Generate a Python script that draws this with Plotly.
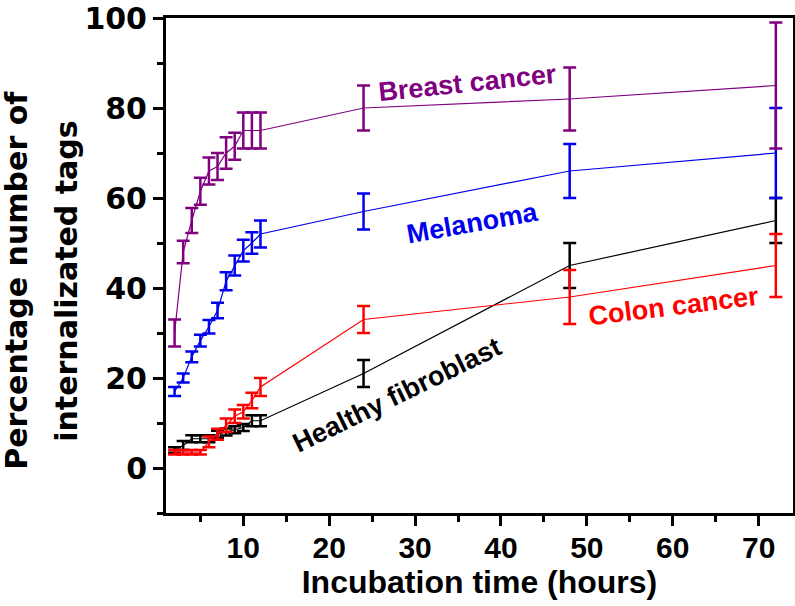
import plotly.graph_objects as go

# incubation times (hours)
hours = [2, 3, 4, 5, 6, 7, 8, 9, 10, 11, 12, 24, 48, 72]

# percentage of internalized tags, with error bars
breast = [30, 48, 55, 61.5, 66, 67, 70, 71.5, 75, 75, 75, 80, 82, 85]
breast_err = [3, 2.5, 2.8, 3, 3, 3, 3.5, 3, 4, 4, 4, 5, 7, 14]
melanoma = [17, 20, 24.7, 28.3, 31.4, 35, 41.5, 45, 48.3, 50, 52, 57, 66, 70]
melanoma_err = [1, 1, 1.2, 1.3, 1.5, 1.7, 2, 2.2, 2.4, 2.4, 3, 4, 6, 10]
colon = [3.5, 3.5, 3.5, 3.5, 5.8, 7.5, 9.5, 11.5, 12.5, 15, 18, 33, 38, 45]
colon_err = [0.5, 0.5, 0.5, 0.5, 1.2, 1.2, 1.5, 1.5, 1.5, 1.7, 2, 3, 6, 7]
fibro = [4, 5, 6.5, 6.5, 6.5, 7.5, 8, 8.5, 9, 10.5, 10.5, 21, 45, 55]
fibro_err = [0.6, 1, 0.8, 0.8, 0.8, 0.8, 0.8, 0.8, 0.8, 1.2, 1.2, 3, 5, 5]

x_ticks = [10, 20, 30, 40, 50, 60, 70]
y_ticks = [0, 20, 40, 60, 80, 100]

PURPLE = "#800080"
BLUE = "#0000ee"
RED = "#ff0000"
BLACK = "#000000"

series = [
    ("Healthy fibroblast", fibro, fibro_err, BLACK),
    ("Colon cancer", colon, colon_err, RED),
    ("Melanoma", melanoma, melanoma_err, BLUE),
    ("Breast cancer", breast, breast_err, PURPLE),
]

fig = go.Figure()
for name, vals, errs, col in series:
    fig.add_trace(go.Scatter(
        x=hours, y=vals, mode="lines", name=name,
        line=dict(color=col, width=1.2),
        error_y=dict(type="data", array=errs, visible=True,
                     color=col, thickness=2.5, width=6.5),
    ))

wide = "DejaVu Sans, Liberation Sans, Arial"
lab = "Liberation Sans, Arial"

fig.update_layout(
    width=795, height=606,
    margin=dict(l=166, r=2, t=18, b=93),
    paper_bgcolor="white", plot_bgcolor="white",
    showlegend=False,
    xaxis=dict(
        range=[1, 74], tickvals=x_ticks, ticks="outside", ticklen=10, tickwidth=3,
        tickcolor="black", showline=True, linecolor="black", linewidth=3, mirror=True,
        showgrid=False, zeroline=False, automargin=False, ticklabelstandoff=-4,
        minor=dict(dtick=5, tick0=0, ticks="outside", ticklen=6, tickwidth=3, tickcolor="black"),
        tickfont=dict(family=lab, size=30, color="black", weight="bold"),
        title=dict(text="Incubation time (hours)", standoff=2,
                   font=dict(family=lab, size=32, color="black", weight="bold")),
    ),
    yaxis=dict(
        range=[-10, 100], tickvals=y_ticks, ticks="outside", ticklen=10, tickwidth=3,
        tickcolor="black", showline=True, linecolor="black", linewidth=3, mirror=True,
        showgrid=False, zeroline=False, automargin=False,
        minor=dict(dtick=10, tick0=0, ticks="outside", ticklen=6, tickwidth=3, tickcolor="black"),
        tickfont=dict(family=wide, size=30, color="black", weight="bold"),
    ),
)

# y-axis title as two rotated lines
for txt, px in [("Percentage number of", 17), ("internalizated tags", 67)]:
    fig.add_annotation(
        text=txt, xref="paper", yref="paper",
        x=(px - 166) / 627, y=0.469, xanchor="center", yanchor="middle",
        textangle=-90, showarrow=False,
        font=dict(family=wide, size=30, color="black", weight="bold"),
    )

# series labels
labels = [
    ("Breast cancer", 36.1, 85.5, -6, PURPLE),
    ("Melanoma", 36.7, 54.4, -10, BLUE),
    ("Colon cancer", 60.2, 35.9, -7, RED),
    ("Healthy fibroblast", 27.9, 16.2, -26, BLACK),
]
for txt, lx, ly, ang, col in labels:
    fig.add_annotation(
        text=txt, x=lx, y=ly, xanchor="center", yanchor="middle",
        textangle=ang, showarrow=False,
        font=dict(family=lab, size=27, color=col, weight="bold"),
    )

# drop the default page margin so the figure sits at the window's corner
fig.write_html("out.html", config={"displayModeBar": False},
               post_script="document.body.style.margin='0';")
